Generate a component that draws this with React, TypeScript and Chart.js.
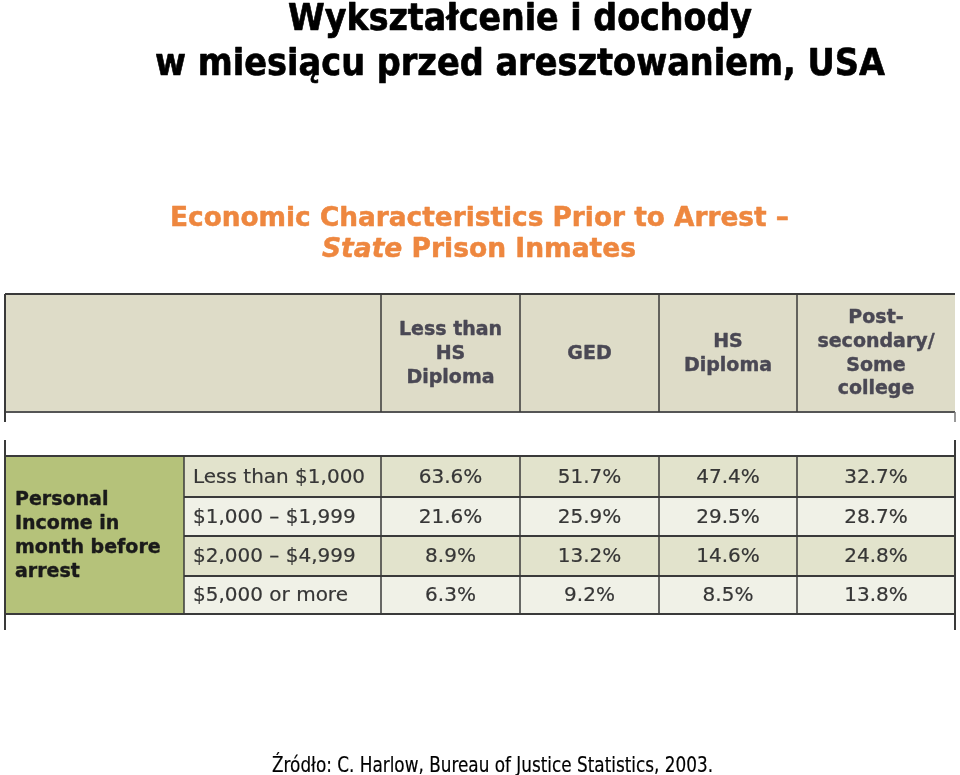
import React, { useEffect, useRef } from "react";
import { Chart, registerables } from "chart.js";

Chart.register(...registerables);

// ---------- data ----------
const titleLines = ["Wykształcenie i dochody", "w miesiącu przed aresztowaniem, USA"];
const subtitleLine1 = "Economic Characteristics Prior to Arrest –";
const subtitleItalic = "State";
const subtitleRest = " Prison Inmates";
const sourceText = "Źródło: C. Harlow, Bureau of Justice Statistics, 2003.";

const educationLevels = [
  ["Less than", "HS", "Diploma"],
  ["GED"],
  ["HS", "Diploma"],
  ["Post-", "secondary/", "Some", "college"],
];
const rowGroupLabel = ["Personal", "Income in", "month before", "arrest"];
const incomeBrackets = ["Less than $1,000", "$1,000 – $1,999", "$2,000 – $4,999", "$5,000 or more"];
const lessThanHS = [63.6, 21.6, 8.9, 6.3];
const ged = [51.7, 25.9, 13.2, 9.2];
const hsDiploma = [47.4, 29.5, 14.6, 8.5];
const postSecondary = [32.7, 28.7, 24.8, 13.8];
const seriesByLevel = [lessThanHS, ged, hsDiploma, postSecondary];

// ---------- layout (grid units on the chart's linear scales) ----------
const GRID_W = 950;
const GRID_H = 336;
const colEdges = [0, 179, 376, 515, 654, 792, 950];
const headerTop = 0;
const headerBottom = 118;
const rowEdges = [162, 203, 242, 282, 320];

const FONT = "'DejaVu Sans', Verdana, sans-serif";

function fitText(
  ctx: CanvasRenderingContext2D,
  parts: { text: string; font: string }[],
  left: number,
  baseline: number,
  width: number,
  color: string,
  stroke = 0
) {
  let total = 0;
  const widths = parts.map((p) => {
    ctx.font = p.font;
    const w = ctx.measureText(p.text).width;
    total += w;
    return w;
  });
  const sx = width / total;
  ctx.save();
  ctx.translate(left, baseline);
  ctx.scale(sx, 1);
  ctx.fillStyle = color;
  ctx.strokeStyle = color;
  ctx.lineJoin = "round";
  ctx.textAlign = "left";
  ctx.textBaseline = "alphabetic";
  let xx = 0;
  parts.forEach((p, i) => {
    ctx.font = p.font;
    ctx.fillText(p.text, xx, 0);
    if (stroke > 0) {
      ctx.lineWidth = stroke;
      ctx.strokeText(p.text, xx, 0);
    }
    xx += widths[i];
  });
  ctx.restore();
}

function heavyText(ctx: CanvasRenderingContext2D, t: string, x: number, y: number, stroke: number) {
  ctx.fillText(t, x, y);
  if (stroke > 0) {
    ctx.lineWidth = stroke;
    ctx.strokeStyle = ctx.fillStyle as string;
    ctx.lineJoin = "round";
    ctx.strokeText(t, x, y);
  }
}

const tablePlugin = {
  id: "tableDraw",
  afterDraw(chart: any) {
    const ctx: CanvasRenderingContext2D = chart.ctx;
    const xs = chart.scales.x;
    const ys = chart.scales.y;
    const px = (v: number) => xs.getPixelForValue(v);
    const py = (v: number) => ys.getPixelForValue(v);

    // titles
    fitText(ctx, [{ text: titleLines[0], font: `bold 38px ${FONT}` }], 288, 30, 464, "#000000", 0.7);
    fitText(ctx, [{ text: titleLines[1], font: `bold 38px ${FONT}` }], 155, 75, 730, "#000000", 0.7);
    fitText(ctx, [{ text: subtitleLine1, font: `bold 27px ${FONT}` }], 170, 226, 619, "#EE873F", 0.5);
    fitText(
      ctx,
      [
        { text: subtitleItalic, font: `italic bold 27px ${FONT}` },
        { text: subtitleRest, font: `bold 27px ${FONT}` },
      ],
      322,
      257,
      314,
      "#EE873F",
      0.5
    );
    fitText(ctx, [{ text: sourceText, font: `21px ${FONT}` }], 272, 772, 441, "#000000", 0.2);

    const line = (x1: number, y1: number, x2: number, y2: number, color: string, w: number) => {
      ctx.save();
      ctx.strokeStyle = color;
      ctx.lineWidth = w;
      ctx.beginPath();
      ctx.moveTo(x1, y1);
      ctx.lineTo(x2, y2);
      ctx.stroke();
      ctx.restore();
    };

    // header table
    ctx.fillStyle = "#DEDCC8";
    ctx.fillRect(px(0), py(headerTop), px(GRID_W) - px(0), py(headerBottom) - py(headerTop));
    const dark = "#3A3A3A";
    line(px(0), py(headerTop), px(GRID_W), py(headerTop), dark, 2);
    line(px(0), py(headerBottom), px(GRID_W), py(headerBottom), "#555555", 2);
    line(px(0), py(headerTop), px(0), py(128), dark, 2);
    line(px(GRID_W), py(headerBottom), px(GRID_W), py(128), "#777777", 1.5);
    for (let c = 2; c <= 5; c++) {
      line(px(colEdges[c]), py(headerTop), px(colEdges[c]), py(headerBottom), dark, 1.5);
    }
    ctx.save();
    ctx.fillStyle = "#4A4854";
    ctx.font = `bold 19px ${FONT}`;
    ctx.textAlign = "center";
    ctx.textBaseline = "middle";
    educationLevels.forEach((lines, j) => {
      const cx = (px(colEdges[j + 2]) + px(colEdges[j + 3])) / 2;
      const cy = (py(headerTop) + py(headerBottom)) / 2 + 1;
      const lh = 23.7;
      lines.forEach((t, k) => {
        heavyText(ctx, t, cx, cy + (k - (lines.length - 1) / 2) * lh, 0.4);
      });
    });
    ctx.restore();

    // data table
    const top = rowEdges[0];
    const bottom = rowEdges[rowEdges.length - 1];
    ctx.fillStyle = "#B5C27A";
    ctx.fillRect(px(0), py(top), px(colEdges[1]) - px(0), py(bottom) - py(top));
    incomeBrackets.forEach((_, i) => {
      ctx.fillStyle = i % 2 === 0 ? "#E2E3CC" : "#F0F1E7";
      ctx.fillRect(px(colEdges[1]), py(rowEdges[i]), px(GRID_W) - px(colEdges[1]), py(rowEdges[i + 1]) - py(rowEdges[i]));
    });
    // side lines
    line(px(0), py(146), px(0), py(GRID_H), dark, 2);
    line(px(GRID_W), py(146), px(GRID_W), py(GRID_H), dark, 2);
    // horizontal lines
    line(px(0), py(top), px(GRID_W), py(top), dark, 2);
    line(px(0), py(bottom), px(GRID_W), py(bottom), dark, 2);
    for (let i = 1; i < rowEdges.length - 1; i++) {
      line(px(colEdges[1]), py(rowEdges[i]), px(GRID_W), py(rowEdges[i]), dark, 2);
    }
    for (let c = 1; c <= 5; c++) {
      line(px(colEdges[c]), py(top), px(colEdges[c]), py(bottom), dark, 1.5);
    }

    // green group label
    ctx.save();
    ctx.fillStyle = "#1A1A1A";
    ctx.font = `bold 19px ${FONT}`;
    ctx.textAlign = "left";
    ctx.textBaseline = "middle";
    const gcy = (py(top) + py(bottom)) / 2 + 1;
    rowGroupLabel.forEach((t, k) => {
      heavyText(ctx, t, px(0) + 10, gcy + (k - (rowGroupLabel.length - 1) / 2) * 24, 0.4);
    });
    ctx.restore();

    // rows
    ctx.save();
    ctx.fillStyle = "#363636";
    ctx.font = `20px ${FONT}`;
    ctx.textBaseline = "middle";
    incomeBrackets.forEach((label, i) => {
      const cy = (py(rowEdges[i]) + py(rowEdges[i + 1])) / 2 + 1;
      ctx.textAlign = "left";
      heavyText(ctx, label, px(colEdges[1]) + 9, cy, 0.2);
      ctx.textAlign = "center";
      seriesByLevel.forEach((series, j) => {
        const cx = (px(colEdges[j + 2]) + px(colEdges[j + 3])) / 2;
        heavyText(ctx, series[i].toFixed(1) + "%", cx, cy, 0.2);
      });
    });
    ctx.restore();
  },
};

export default function App() {
  const ref = useRef<HTMLCanvasElement | null>(null);
  useEffect(() => {
    document.body.style.margin = "0";
    const canvas = ref.current;
    if (!canvas) return;
    const chart = new Chart(canvas, {
      type: "scatter",
      data: { datasets: [] },
      options: {
        animation: false,
        responsive: false,
        devicePixelRatio: 1,
        layout: { padding: { left: 5, right: 5, top: 294, bottom: 145 } },
        plugins: { legend: { display: false }, tooltip: { enabled: false }, title: { display: false } },
        scales: {
          x: { type: "linear", min: 0, max: GRID_W, display: false },
          y: { type: "linear", min: 0, max: GRID_H, reverse: true, display: false },
        },
      },
      plugins: [tablePlugin],
    });
    return () => chart.destroy();
  }, []);
  return <canvas ref={ref} width={960} height={775} style={{ display: "block" }} />;
}
